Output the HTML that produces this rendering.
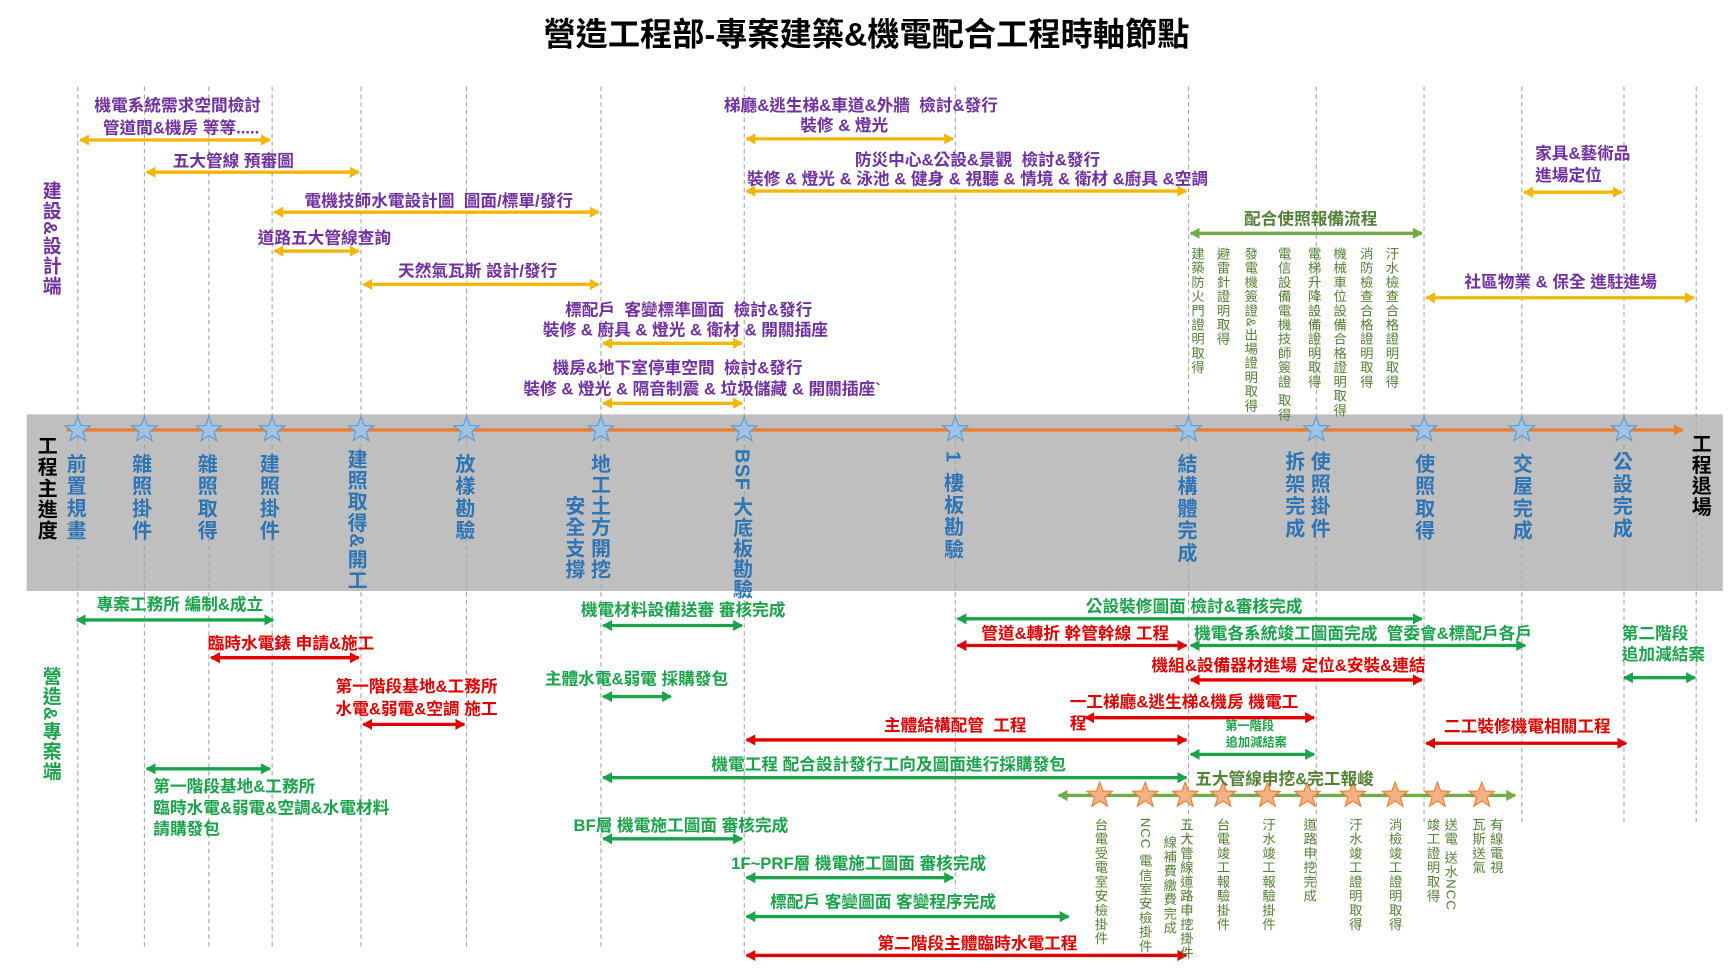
<!DOCTYPE html>
<html><head><meta charset="utf-8">
<style>
html,body{margin:0;padding:0;background:#fff;overflow:hidden}
#root{position:absolute;left:0;top:0;width:1561px;height:874px;transform:scale(1.1108,1.111);transform-origin:0 0;font-family:"Liberation Sans","Noto Sans CJK TC",sans-serif}
svg{position:absolute;left:0;top:0}
.t{position:absolute;white-space:nowrap;font-weight:bold;transform:translateX(-50%);line-height:1;font-size:15px}
.l{position:absolute;white-space:nowrap;font-weight:bold;line-height:1;font-size:15px}
.v{position:absolute;writing-mode:vertical-rl;transform:translateX(-50%);line-height:1;white-space:nowrap}
.p{color:#7030a0}.g{color:#1aa34a}.r{color:#e00000}.o{color:#548235}.b{color:#2e75b6}
.mb{font-size:18px;font-weight:bold;letter-spacing:2px}
.sm{font-size:12px;letter-spacing:0.8px}
</style></head><body>
<div id="root">
<svg width="1561" height="874" viewBox="0 0 1561 874">
<defs>
<marker id="my" markerWidth="10" markerHeight="10" refX="8" refY="5" orient="auto-start-reverse" markerUnits="userSpaceOnUse"><path d="M0,0 L9,5 L0,10z" fill="#f2b705"/></marker>
<marker id="mg" markerWidth="10" markerHeight="10" refX="8" refY="5" orient="auto-start-reverse" markerUnits="userSpaceOnUse"><path d="M0,0 L9,5 L0,10z" fill="#1aa34a"/></marker>
<marker id="mr" markerWidth="10" markerHeight="10" refX="8" refY="5" orient="auto-start-reverse" markerUnits="userSpaceOnUse"><path d="M0,0 L9,5 L0,10z" fill="#e00000"/></marker>
<marker id="mo" markerWidth="10" markerHeight="10" refX="8" refY="5" orient="auto-start-reverse" markerUnits="userSpaceOnUse"><path d="M0,0 L9,5 L0,10z" fill="#70ad47"/></marker>
<marker id="mor" markerWidth="10" markerHeight="10" refX="8" refY="5" orient="auto" markerUnits="userSpaceOnUse"><path d="M0,0 L9,5 L0,10z" fill="#ed7d31"/></marker>
<polygon id="st" points="0,-12 2.94,-4.05 11.41,-3.71 4.76,1.55 7.05,9.71 0,5 -7.05,9.71 -4.76,1.55 -11.41,-3.71 -2.94,-4.05"/>
</defs>
<rect x="24" y="373" width="1527" height="159" fill="#bfbfbf"/>
<g stroke="#a6a6a6" stroke-width="1" stroke-dasharray="4 3">
<line x1="70" y1="78" x2="70" y2="855"/><line x1="130" y1="78" x2="130" y2="855"/><line x1="188" y1="78" x2="188" y2="855"/><line x1="245" y1="78" x2="245" y2="855"/><line x1="325" y1="78" x2="325" y2="855"/><line x1="420" y1="78" x2="420" y2="855"/><line x1="541" y1="78" x2="541" y2="855"/><line x1="670" y1="78" x2="670" y2="860"/><line x1="860" y1="78" x2="860" y2="800"/><line x1="1070" y1="78" x2="1070" y2="860"/><line x1="1185" y1="78" x2="1185" y2="800"/><line x1="1282" y1="78" x2="1282" y2="740"/><line x1="1370" y1="78" x2="1370" y2="740"/><line x1="1462" y1="78" x2="1462" y2="740"/><line x1="1527" y1="78" x2="1527" y2="740"/>
</g>
<line x1="60" y1="387" x2="1515" y2="387" stroke="#ed7d31" stroke-width="3" marker-end="url(#mor)"/>
<g fill="#9dc3e6" stroke="#5b9bd5" stroke-width="1">
<use href="#st" x="70" y="387"/><use href="#st" x="130" y="387"/><use href="#st" x="188" y="387"/><use href="#st" x="245" y="387"/><use href="#st" x="325" y="387"/><use href="#st" x="420" y="387"/><use href="#st" x="541" y="387"/><use href="#st" x="670" y="387"/><use href="#st" x="860" y="387"/><use href="#st" x="1070" y="387"/><use href="#st" x="1185" y="387"/><use href="#st" x="1282" y="387"/><use href="#st" x="1370" y="387"/><use href="#st" x="1462" y="387"/>
</g>
<g stroke="#f2b705" stroke-width="3" marker-start="url(#my)" marker-end="url(#my)">
<line x1="72" y1="126" x2="243" y2="126"/>
<line x1="132" y1="155" x2="323" y2="155"/>
<line x1="247" y1="191" x2="539" y2="191"/>
<line x1="247" y1="226" x2="323" y2="226"/>
<line x1="327" y1="256" x2="539" y2="256"/>
<line x1="543" y1="309" x2="668" y2="309"/>
<line x1="543" y1="363" x2="668" y2="363"/>
<line x1="672" y1="125" x2="858" y2="125"/>
<line x1="672" y1="172" x2="1068" y2="172"/>
<line x1="1372" y1="173" x2="1460" y2="173"/>
<line x1="1284" y1="268" x2="1525" y2="268"/>
</g>
<g stroke="#70ad47" stroke-width="3" marker-start="url(#mo)" marker-end="url(#mo)">
<line x1="1072" y1="210" x2="1280" y2="210"/>
<line x1="953" y1="716" x2="1364" y2="716"/>
</g>
<g stroke="#1aa34a" stroke-width="3" marker-start="url(#mg)" marker-end="url(#mg)">
<line x1="69" y1="558" x2="246" y2="558"/>
<line x1="132" y1="692" x2="243" y2="692"/>
<line x1="543" y1="563" x2="668" y2="563"/>
<line x1="543" y1="627" x2="604" y2="627"/>
<line x1="543" y1="700" x2="1068" y2="700"/>
<line x1="543" y1="755" x2="668" y2="755"/>
<line x1="672" y1="790" x2="858" y2="790"/>
<line x1="672" y1="825" x2="962" y2="825"/>
<line x1="862" y1="557" x2="1280" y2="557"/>
<line x1="1072" y1="581" x2="1373" y2="581"/>
<line x1="1072" y1="679" x2="1183" y2="679"/>
<line x1="1462" y1="610" x2="1526" y2="610"/>
</g>
<g stroke="#e00000" stroke-width="3" marker-start="url(#mr)" marker-end="url(#mr)">
<line x1="190" y1="592" x2="323" y2="592"/>
<line x1="327" y1="652" x2="418" y2="652"/>
<line x1="672" y1="666" x2="1068" y2="666"/>
<line x1="672" y1="860" x2="1068" y2="860"/>
<line x1="862" y1="581" x2="1068" y2="581"/>
<line x1="1072" y1="612" x2="1280" y2="612"/>
<line x1="977" y1="646" x2="1183" y2="646"/>
<line x1="1284" y1="669" x2="1464" y2="669"/>
</g>
<g fill="#f4b183" stroke="#ed7d31" stroke-width="1">
<use href="#st" x="990" y="716"/><use href="#st" x="1031" y="716"/><use href="#st" x="1067" y="716"/><use href="#st" x="1101" y="716"/><use href="#st" x="1141" y="716"/><use href="#st" x="1177" y="716"/><use href="#st" x="1218" y="716"/><use href="#st" x="1256" y="716"/><use href="#st" x="1294" y="716"/><use href="#st" x="1334" y="716"/>
</g>
</svg>

<div class="t" style="left:780px;top:18px;font-size:29px;color:#000">營造工程部-專案建築&amp;機電配合工程時軸節點</div>

<div class="t p" style="left:160px;top:88px">機電系統需求空間檢討</div>
<div class="t p" style="left:163px;top:108px">管道間&amp;機房 等等.....</div>
<div class="t p" style="left:210px;top:138px">五大管線 預審圖</div>
<div class="t p" style="left:395px;top:174px">電機技師水電設計圖&nbsp;&nbsp;圖面/標單/發行</div>
<div class="t p" style="left:292px;top:207px">道路五大管線查詢</div>
<div class="t p" style="left:430px;top:237px">天然氣瓦斯 設計/發行</div>
<div class="t p" style="left:620px;top:272px">標配戶&nbsp;&nbsp;客變標準圖面&nbsp;&nbsp;檢討&amp;發行</div>
<div class="t p" style="left:617px;top:290px">裝修 &amp; 廚具 &amp; 燈光 &amp; 衛材 &amp; 開關插座</div>
<div class="t p" style="left:610px;top:324px">機房&amp;地下室停車空間&nbsp;&nbsp;檢討&amp;發行</div>
<div class="t p" style="left:632px;top:343px">裝修 &amp; 燈光 &amp; 隔音制震 &amp; 垃圾儲藏 &amp; 開關插座`</div>
<div class="t p" style="left:775px;top:88px">梯廳&amp;逃生梯&amp;車道&amp;外牆&nbsp;&nbsp;檢討&amp;發行</div>
<div class="t p" style="left:760px;top:106px">裝修 &amp; 燈光</div>
<div class="t p" style="left:880px;top:137px">防災中心&amp;公設&amp;景觀&nbsp;&nbsp;檢討&amp;發行</div>
<div class="t p" style="left:880px;top:154px">裝修 &amp; 燈光 &amp; 泳池 &amp; 健身 &amp; 視聽 &amp; 情境 &amp; 衛材 &amp;廚具 &amp;空調</div>
<div class="l p" style="left:1382px;top:131px">家具&amp;藝術品</div>
<div class="l p" style="left:1382px;top:151px">進場定位</div>
<div class="t p" style="left:1405px;top:247px">社區物業 &amp; 保全 進駐進場</div>
<div class="t o" style="left:1180px;top:190px">配合使照報備流程</div>
<div class="v p" style="left:45px;top:163px;font-size:17px;font-weight:bold;letter-spacing:1px">建設&amp;設計端</div>

<div class="v o sm" style="left:1078px;top:222px">建築防火門證明取得</div>
<div class="v o sm" style="left:1101px;top:222px">避雷針證明取得</div>
<div class="v o sm" style="left:1126px;top:222px">發電機簽證&amp;出場證明取得</div>
<div class="v o sm" style="left:1156px;top:222px">電信設備電機技師簽證 取得</div>
<div class="v o sm" style="left:1183px;top:222px">電梯升降設備證明取得</div>
<div class="v o sm" style="left:1206px;top:222px">機械車位設備合格證明取得</div>
<div class="v o sm" style="left:1230px;top:222px">消防檢查合格證明取得</div>
<div class="v o sm" style="left:1253px;top:222px">汙水檢查合格證明取得</div>

<div class="v mb" style="left:42px;top:392px;color:#000;letter-spacing:1px">工程主進度</div>
<div class="v mb" style="left:1531px;top:390px;color:#000;letter-spacing:1px">工程退場</div>
<div class="v mb b" style="left:68px;top:408px">前置規畫</div>
<div class="v mb b" style="left:127px;top:408px">雜照掛件</div>
<div class="v mb b" style="left:186px;top:408px">雜照取得</div>
<div class="v mb b" style="left:242px;top:408px">建照掛件</div>
<div class="v mb b" style="left:321px;top:404px;letter-spacing:1px">建照取得&amp;開工</div>
<div class="v mb b" style="left:418px;top:408px">放樣勘驗</div>
<div class="v mb b" style="left:540px;top:408px;letter-spacing:1px">地工土方開挖</div>
<div class="v mb b" style="left:517px;top:446px;letter-spacing:1px">安全支撐</div>
<div class="v mb b" style="left:668px;top:404px;letter-spacing:0.5px">BSF 大底板勘驗</div>
<div class="v mb b" style="left:858px;top:406px">1 樓板勘驗</div>
<div class="v mb b" style="left:1068px;top:408px">結構體完成</div>
<div class="v mb b" style="left:1165px;top:406px">拆架完成</div>
<div class="v mb b" style="left:1188px;top:406px">使照掛件</div>
<div class="v mb b" style="left:1282px;top:408px">使照取得</div>
<div class="v mb b" style="left:1370px;top:408px">交屋完成</div>
<div class="v mb b" style="left:1460px;top:406px">公設完成</div>

<div class="v g" style="left:45px;top:600px;font-size:17px;font-weight:bold;letter-spacing:1px">營造&amp;專案端</div>
<div class="t g" style="left:162px;top:537px">專案工務所 編制&amp;成立</div>
<div class="t r" style="left:262px;top:572px">臨時水電錶 申請&amp;施工</div>
<div class="t r" style="left:375px;top:611px">第一階段基地&amp;工務所</div>
<div class="t r" style="left:375px;top:631px">水電&amp;弱電&amp;空調 施工</div>
<div class="l g" style="left:138px;top:701px">第一階段基地&amp;工務所</div>
<div class="l g" style="left:138px;top:720px">臨時水電&amp;弱電&amp;空調&amp;水電材料</div>
<div class="l g" style="left:138px;top:739px">請購發包</div>
<div class="t g" style="left:615px;top:542px">機電材料設備送審 審核完成</div>
<div class="t g" style="left:573px;top:604px">主體水電&amp;弱電 採購發包</div>
<div class="t g" style="left:800px;top:681px">機電工程 配合設計發行工向及圖面進行採購發包</div>
<div class="t r" style="left:860px;top:646px">主體結構配管&nbsp;&nbsp;工程</div>
<div class="t g" style="left:613px;top:736px">BF層 機電施工圖面 審核完成</div>
<div class="t g" style="left:773px;top:770px">1F~PRF層 機電施工圖面 審核完成</div>
<div class="t g" style="left:795px;top:805px">標配戶 客變圖面 客變程序完成</div>
<div class="t r" style="left:880px;top:842px">第二階段主體臨時水電工程</div>
<div class="t g" style="left:1075px;top:539px">公設裝修圖面 檢討&amp;審核完成</div>
<div class="t r" style="left:968px;top:563px">管道&amp;轉折 幹管幹線 工程</div>
<div class="l g" style="left:1075px;top:563px">機電各系統竣工圖面完成&nbsp;&nbsp;管委會&amp;標配戶各戶</div>
<div class="t r" style="left:1160px;top:592px">機組&amp;設備器材進場 定位&amp;安裝&amp;連結</div>
<div class="l r" style="left:963px;top:625px">一工梯廳&amp;逃生梯&amp;機房 機電工</div>
<div class="l r" style="left:963px;top:644px">程</div>
<div class="t g" style="left:1125px;top:649px;font-size:11px">第一階段</div>
<div class="t g" style="left:1131px;top:664px;font-size:11px">追加減結案</div>
<div class="t r" style="left:1375px;top:647px">二工裝修機電相關工程</div>
<div class="l g" style="left:1460px;top:563px">第二階段</div>
<div class="l g" style="left:1460px;top:582px">追加減結案</div>
<div class="l o" style="left:1076px;top:694px">五大管線申挖&amp;完工報峻</div>

<div class="v o sm" style="left:991px;top:736px">台電受電室安檢掛件</div>
<div class="v o sm" style="left:1031px;top:736px">NCC 電信室安檢掛件</div>
<div class="v o sm" style="left:1068px;top:736px">五大管線道路申挖掛件</div>
<div class="v o sm" style="left:1053px;top:752px">線補費繳費完成</div>
<div class="v o sm" style="left:1101px;top:736px">台電竣工報驗掛件</div>
<div class="v o sm" style="left:1142px;top:736px">汙水竣工報驗掛件</div>
<div class="v o sm" style="left:1179px;top:736px">道路申挖完成</div>
<div class="v o sm" style="left:1220px;top:736px">汙水竣工證明取得</div>
<div class="v o sm" style="left:1256px;top:736px">消檢竣工證明取得</div>
<div class="v o sm" style="left:1306px;top:736px">送電 送水NCC</div>
<div class="v o sm" style="left:1290px;top:736px">竣工證明取得</div>
<div class="v o sm" style="left:1347px;top:736px">有線電視</div>
<div class="v o sm" style="left:1331px;top:736px">瓦斯送氣</div>
</div>
</body></html>
